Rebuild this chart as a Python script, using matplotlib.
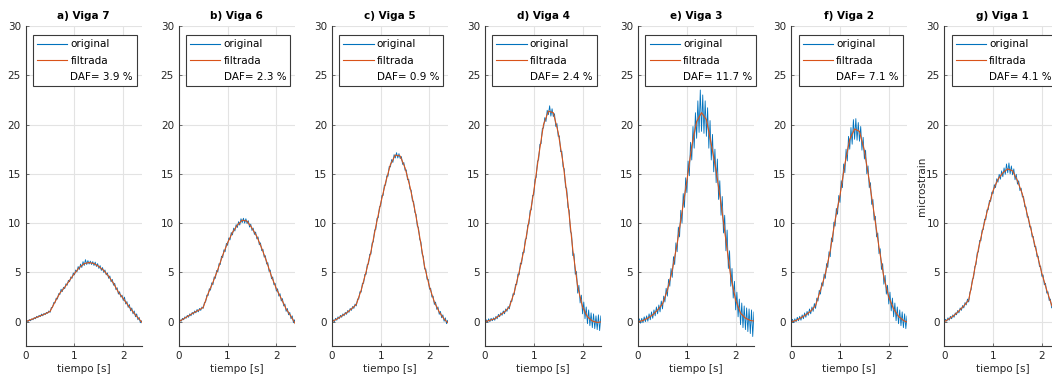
import numpy as np
import matplotlib
matplotlib.use("Agg")
import matplotlib.pyplot as plt
from matplotlib.lines import Line2D

plt.rcParams['font.family'] = ['DejaVu Sans']

# ---------------- data ----------------
titles = ["a) Viga 7", "b) Viga 6", "c) Viga 5", "d) Viga 4",
          "e) Viga 3", "f) Viga 2", "g) Viga 1"]
daf_values = [3.9, 2.3, 0.9, 2.4, 11.7, 7.1, 4.1]

# original (raw) signals, sampled every 0.025 s from 0 to 2.4 s
orig_a = [0.0, 0.12, 0.02, 0.22, 0.1, 0.3, 0.2, 0.42,
          0.3, 0.55, 0.42, 0.65, 0.52, 0.78, 0.6, 0.85,
          0.72, 0.95, 0.85, 1.1, 0.95, 1.45, 1.45, 1.95,
          1.9, 2.4, 2.3, 2.85, 2.75, 3.3, 3.05, 3.5,
          3.35, 3.85, 3.7, 4.2, 4.05, 4.55, 4.4, 4.95,
          4.75, 5.25, 5.05, 5.6, 5.3, 5.85, 5.5, 6.1,
          5.7, 6.3, 5.8, 6.2, 5.85, 6.15, 5.8, 6.1,
          5.7, 6.05, 5.6, 5.9, 5.4, 5.7, 5.2, 5.5,
          5.0, 5.25, 4.75, 4.95, 4.4, 4.65, 4.05, 4.3,
          3.7, 3.9, 3.25, 3.45, 2.8, 3.05, 2.5, 2.7,
          2.15, 2.5, 1.8, 2.05, 1.45, 1.75, 1.1, 1.4,
          0.8, 1.1, 0.5, 0.8, 0.2, 0.45, -0.1, 0.1,
          -0.3]
orig_b = [0.0, 0.2, 0.05, 0.35, 0.2, 0.5, 0.35, 0.65,
          0.45, 0.8, 0.6, 0.95, 0.75, 1.1, 0.9, 1.25,
          1.0, 1.35, 1.15, 1.5, 1.35, 1.95, 2.0, 2.7,
          2.65, 3.35, 3.2, 3.95, 3.75, 4.55, 4.4, 5.2,
          5.05, 5.9, 5.8, 6.65, 6.5, 7.3, 7.1, 7.95,
          7.75, 8.5, 8.3, 9.05, 8.8, 9.5, 9.2, 9.85,
          9.55, 10.15, 9.8, 10.45, 10.05, 10.5, 10.0, 10.45,
          9.95, 10.25, 9.6, 9.9, 9.25, 9.5, 8.85, 9.1,
          8.4, 8.6, 7.8, 8.0, 7.2, 7.35, 6.55, 6.7,
          5.85, 6.0, 5.1, 5.25, 4.35, 4.55, 3.75, 3.9,
          3.1, 3.35, 2.6, 2.85, 2.1, 2.35, 1.6, 1.8,
          1.05, 1.35, 0.7, 0.95, 0.3, 0.6, -0.1, 0.2,
          -0.5]
orig_c = [0.0, 0.2, 0.0, 0.35, 0.15, 0.5, 0.3, 0.65,
          0.45, 0.8, 0.6, 0.95, 0.75, 1.15, 0.95, 1.35,
          1.15, 1.55, 1.35, 1.8, 1.6, 2.3, 2.3, 3.05,
          3.0, 3.9, 3.9, 4.8, 4.8, 5.8, 5.85, 6.85,
          6.85, 8.0, 8.1, 9.3, 9.35, 10.5, 10.55, 11.65,
          11.75, 12.8, 12.8, 13.85, 13.85, 14.8, 14.75, 15.75,
          15.7, 16.45, 16.15, 16.95, 16.6, 17.15, 16.6, 17.05,
          16.55, 16.75, 15.95, 16.15, 15.35, 15.4, 14.4, 14.45,
          13.45, 13.35, 12.25, 12.2, 11.1, 10.9, 9.7, 9.55,
          8.35, 8.1, 6.85, 6.6, 5.35, 5.35, 4.3, 4.3,
          3.3, 3.4, 2.5, 2.6, 1.75, 2.0, 1.25, 1.5,
          0.75, 1.05, 0.4, 0.7, 0.05, 0.4, -0.2, 0.15,
          -0.45]
orig_d = [0.0, 0.2, -0.05, 0.3, 0.0, 0.35, 0.1, 0.4,
          0.15, 0.55, 0.3, 0.75, 0.5, 0.9, 0.65, 1.1,
          0.8, 1.3, 1.05, 1.55, 1.3, 2.1, 2.05, 2.85,
          2.75, 3.8, 3.75, 4.85, 4.75, 5.95, 5.85, 7.05,
          7.0, 8.35, 8.45, 9.8, 9.9, 11.3, 11.35, 12.8,
          12.85, 14.45, 14.65, 16.25, 16.45, 18.0, 18.05, 19.6,
          19.65, 20.7, 20.3, 21.45, 21.0, 21.9, 20.85, 21.6,
          20.8, 21.1, 19.8, 20.1, 18.8, 18.85, 17.25, 17.3,
          15.7, 15.5, 13.65, 13.5, 11.6, 11.3, 9.2, 8.9,
          6.7, 6.9, 4.8, 5.1, 2.9, 3.7, 1.9, 2.7,
          0.8, 2.0, 0.3, 1.5, -0.2, 1.2, -0.4, 0.9,
          -0.6, 0.8, -0.7, 0.6, -0.8, 0.7, -0.9, 0.6,
          -0.5]
orig_e = [0.0, 0.3, -0.15, 0.35, -0.1, 0.5, 0.0, 0.6,
          0.05, 0.8, 0.2, 1.0, 0.35, 1.2, 0.6, 1.5,
          0.8, 1.7, 1.0, 2.1, 1.3, 2.6, 2.0, 3.4,
          2.6, 4.3, 3.6, 5.4, 4.5, 6.6, 5.8, 8.0,
          7.1, 9.6, 8.6, 11.3, 10.0, 13.0, 11.6, 14.6,
          13.1, 16.3, 14.8, 18.2, 16.4, 19.8, 17.6, 21.2,
          18.6, 22.4, 19.2, 23.5, 19.3, 23.0, 19.1, 22.4,
          18.8, 21.7, 17.6, 20.4, 16.4, 19.0, 15.2, 17.5,
          14.1, 16.5, 12.4, 14.3, 10.8, 12.7, 9.0, 10.8,
          7.2, 9.3, 5.4, 7.2, 3.6, 5.4, 2.4, 4.1,
          1.2, 3.0, 0.5, 2.3, -0.3, 1.9, -0.6, 1.6,
          -0.8, 1.4, -1.0, 1.3, -1.2, 1.2, -1.5, 1.0,
          -1.8]
orig_f = [0.0, 0.25, -0.1, 0.3, 0.0, 0.45, 0.1, 0.55,
          0.15, 0.7, 0.3, 0.9, 0.45, 1.05, 0.65, 1.3,
          0.8, 1.5, 1.05, 1.85, 1.35, 2.4, 2.1, 3.2,
          2.8, 3.95, 3.6, 4.85, 4.4, 5.9, 5.5, 7.1,
          6.6, 8.5, 8.1, 10.1, 9.7, 11.5, 10.9, 12.8,
          12.1, 14.3, 13.6, 16.0, 15.1, 17.5, 16.3, 18.8,
          17.5, 19.7, 18.0, 20.5, 18.5, 20.6, 18.4, 20.2,
          18.3, 19.8, 17.4, 18.7, 16.5, 17.4, 15.0, 15.8,
          13.6, 14.1, 11.9, 12.4, 10.3, 10.7, 8.6, 9.0,
          6.9, 7.4, 5.3, 5.9, 3.8, 4.7, 2.8, 3.7,
          1.8, 3.0, 1.1, 2.4, 0.5, 1.9, 0.1, 1.5,
          -0.2, 1.2, -0.4, 1.0, -0.6, 0.8, -0.7, 0.6,
          -1.0]
orig_g = [0.0, 0.25, 0.05, 0.4, 0.15, 0.55, 0.3, 0.7,
          0.45, 0.9, 0.7, 1.15, 0.9, 1.4, 1.15, 1.65,
          1.4, 1.95, 1.7, 2.3, 2.0, 3.0, 3.25, 4.3,
          4.45, 5.6, 5.8, 7.0, 7.1, 8.25, 8.2, 9.3,
          9.35, 10.4, 10.35, 11.35, 11.35, 12.3, 12.2, 13.15,
          13.0, 13.9, 13.6, 14.5, 14.15, 14.95, 14.45, 15.3,
          14.7, 15.6, 14.95, 16.0, 15.1, 16.1, 15.0, 15.8,
          14.9, 15.5, 14.4, 14.95, 13.95, 14.3, 13.3, 13.55,
          12.65, 12.7, 11.65, 11.65, 10.6, 10.65, 9.6, 9.65,
          8.6, 8.65, 7.6, 7.65, 6.6, 6.65, 5.6, 5.65,
          4.6, 4.75, 3.75, 3.9, 2.9, 3.05, 2.15, 2.3,
          1.4, 1.6, 0.8, 1.0, 0.2, 0.5, -0.1, 0.2,
          -0.3]

# filtered signals, sampled every 0.1 s from 0 to 2.4 s
filt_a = [0, 0.2, 0.4, 0.6, 0.8, 1.05, 2.0, 2.9, 3.5, 4.2, 4.9, 5.5, 5.9, 6.0, 5.9, 5.6, 5.2,
          4.6, 3.9, 3.0, 2.35, 1.65, 1.0, 0.4, -0.15]
filt_b = [0, 0.3, 0.6, 0.9, 1.15, 1.45, 2.85, 4.0, 5.3, 6.75, 8.0, 9.05, 9.8, 10.3, 10.2, 9.5,
          8.65, 7.45, 6.1, 4.6, 3.35, 2.35, 1.3, 0.55, -0.3]
filt_c = [0, 0.27, 0.58, 0.9, 1.3, 1.75, 3.2, 5.05, 7.1, 9.65, 12.0, 14.1, 15.95, 16.9, 16.8,
          15.6, 13.7, 11.35, 8.6, 5.6, 3.55, 2.0, 1.0, 0.27, -0.2]
filt_d = [0, 0.15, 0.3, 0.65, 1.0, 1.5, 3.0, 5.05, 7.3, 10.2, 13.2, 16.8, 20.0, 21.35, 21.2,
          19.2, 16.1, 12.05, 7.3, 3.55, 1.5, 0.5, 0.07, -0.07, 0.0]
filt_e = [0, 0.13, 0.37, 0.7, 1.2, 1.8, 3.2, 5.2, 7.9, 11.1, 14.3, 17.8, 20.3, 21.2, 20.5,
          18.0, 15.3, 11.95, 8.25, 4.55, 2.2, 0.87, 0.37, 0.13, 0.05]
filt_f = [0, 0.13, 0.4, 0.7, 1.08, 1.65, 3.2, 4.85, 7.2, 10.3, 12.8, 16.0, 18.5, 19.55, 19.3,
          17.35, 14.3, 10.95, 7.55, 4.5, 2.5, 1.3, 0.54, 0.13, -0.1]
filt_g = [0, 0.3, 0.64, 1.1, 1.6, 2.2, 4.7, 7.4, 9.6, 11.6, 13.3, 14.45, 15.1, 15.5, 15.3, 14.3,
          12.95, 10.9, 8.9, 6.9, 4.9, 3.2, 1.7, 0.5, -0.1]

originals = [orig_a, orig_b, orig_c, orig_d, orig_e, orig_f, orig_g]
filtered = [filt_a, filt_b, filt_c, filt_d, filt_e, filt_f, filt_g]
dt_orig = 0.025
dt_filt = 0.1

# ---------------- style ----------------
BLUE = "#0072BD"
ORANGE = "#D95319"
AXC = "#3a3a3a"
TXT = "#262626"
GRID = "#e3e3e3"
FS = 7.5

W, H = 1052, 381
fig = plt.figure(figsize=(W / 100, H / 100), dpi=100)
fig.patch.set_facecolor("white")

ax_left0 = 25.7
ax_step = 153.1
ax_w = 116.1
ax_top = 25.9
ax_bot = 346.4

for i in range(7):
    l = (ax_left0 + i * ax_step) / W
    b = (H - ax_bot) / H
    ax = fig.add_axes([l, b, ax_w / W, (ax_bot - ax_top) / H])
    yo = np.array(originals[i])
    yf = np.array(filtered[i])
    xo = np.arange(len(yo)) * dt_orig
    xf = np.arange(len(yf)) * dt_filt
    ax.plot(xo, yo, color=BLUE, lw=0.6, label="original")
    ax.plot(xf, yf, color=ORANGE, lw=0.8, label="filtrada")
    ax.set_xlim(0, 2.38)
    ax.set_ylim(-2.5, 30)
    ax.set_xticks([0, 1, 2])
    ax.set_yticks([0, 5, 10, 15, 20, 25, 30])
    ax.grid(True, color=GRID, lw=0.8)
    ax.set_axisbelow(True)
    for s in ("top", "right"):
        ax.spines[s].set_visible(False)
    for s in ("left", "bottom"):
        ax.spines[s].set_color(AXC)
        ax.spines[s].set_linewidth(0.8)
    ax.tick_params(axis="both", direction="in", length=2, width=0.5, color=AXC,
                   labelsize=FS, labelcolor=TXT, pad=3.5)
    ax.set_title(titles[i], fontsize=FS, fontweight="bold", pad=5, color="black")
    ax.set_xlabel("tiempo [s]", fontsize=FS, color=TXT, labelpad=2)
    if i == 6:
        ax.set_ylabel("microstrain", fontsize=FS, color=TXT)
        ax.yaxis.set_label_coords(-0.15, 0.5)

    handles = [Line2D([], [], color=BLUE, lw=0.8),
               Line2D([], [], color=ORANGE, lw=0.8),
               Line2D([], [], color="none")]
    labels = ["original", "filtrada", "DAF= %.1f %%" % daf_values[i]]
    leg = ax.legend(handles, labels, loc="upper left",
                    bbox_to_anchor=((33 - 25.7) / ax_w, (ax_bot - 35) / (ax_bot - ax_top)),
                    borderaxespad=0, fontsize=FS, frameon=True, fancybox=False,
                    framealpha=1, edgecolor=AXC, handlelength=2.9, handletextpad=0.3,
                    borderpad=0.4, labelspacing=0.62)
    leg.get_frame().set_linewidth(0.8)

fig.savefig("out.png", dpi=100, facecolor="white")
